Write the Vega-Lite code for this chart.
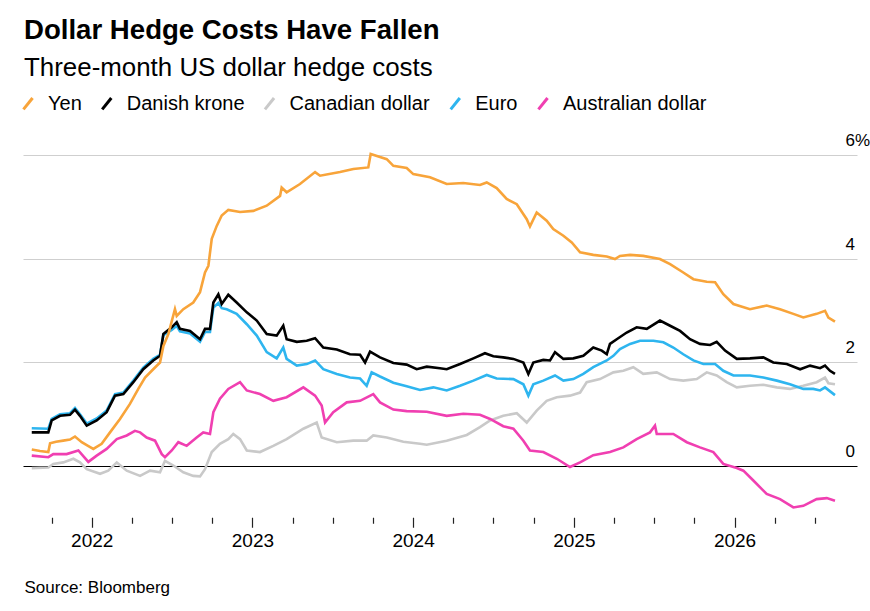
{
  "$schema": "https://vega.github.io/schema/vega-lite/v6.json",
  "width": 834,
  "height": 362.25,
  "autosize": {"type": "none"},
  "padding": {"left": 23, "top": 155, "right": 13, "bottom": 94},
  "background": "white",
  "title": {
    "text": "Dollar Hedge Costs Have Fallen",
    "subtitle": "Three-month US dollar hedge costs",
    "anchor": "start",
    "frame": "group",
    "dx": 1,
    "offset": 13,
    "font": "Liberation Sans",
    "fontSize": 27.6,
    "fontWeight": "bold",
    "color": "#000000",
    "subtitleFont": "Liberation Sans",
    "subtitleFontSize": 25.9,
    "subtitleColor": "#000000",
    "subtitlePadding": 11
  },
  "data": {
    "values": [
      {"currency": "Canadian dollar", "year": 2021.627, "cost": -0.05},
      {"currency": "Canadian dollar", "year": 2021.730, "cost": -0.04},
      {"currency": "Canadian dollar", "year": 2021.761, "cost": 0.03},
      {"currency": "Canadian dollar", "year": 2021.823, "cost": 0.06},
      {"currency": "Canadian dollar", "year": 2021.886, "cost": 0.13},
      {"currency": "Canadian dollar", "year": 2021.927, "cost": 0.06},
      {"currency": "Canadian dollar", "year": 2021.969, "cost": -0.07},
      {"currency": "Canadian dollar", "year": 2022.052, "cost": -0.16},
      {"currency": "Canadian dollar", "year": 2022.103, "cost": -0.10},
      {"currency": "Canadian dollar", "year": 2022.156, "cost": 0.06},
      {"currency": "Canadian dollar", "year": 2022.218, "cost": -0.10},
      {"currency": "Canadian dollar", "year": 2022.301, "cost": -0.20},
      {"currency": "Canadian dollar", "year": 2022.363, "cost": -0.10},
      {"currency": "Canadian dollar", "year": 2022.425, "cost": -0.13},
      {"currency": "Canadian dollar", "year": 2022.456, "cost": 0.09},
      {"currency": "Canadian dollar", "year": 2022.508, "cost": 0.00},
      {"currency": "Canadian dollar", "year": 2022.570, "cost": -0.13},
      {"currency": "Canadian dollar", "year": 2022.632, "cost": -0.20},
      {"currency": "Canadian dollar", "year": 2022.674, "cost": -0.21},
      {"currency": "Canadian dollar", "year": 2022.705, "cost": -0.07},
      {"currency": "Canadian dollar", "year": 2022.747, "cost": 0.26},
      {"currency": "Canadian dollar", "year": 2022.798, "cost": 0.42},
      {"currency": "Canadian dollar", "year": 2022.850, "cost": 0.51},
      {"currency": "Canadian dollar", "year": 2022.881, "cost": 0.61},
      {"currency": "Canadian dollar", "year": 2022.923, "cost": 0.51},
      {"currency": "Canadian dollar", "year": 2022.965, "cost": 0.29},
      {"currency": "Canadian dollar", "year": 2023.047, "cost": 0.26},
      {"currency": "Canadian dollar", "year": 2023.130, "cost": 0.38},
      {"currency": "Canadian dollar", "year": 2023.213, "cost": 0.51},
      {"currency": "Canadian dollar", "year": 2023.317, "cost": 0.71},
      {"currency": "Canadian dollar", "year": 2023.400, "cost": 0.83},
      {"currency": "Canadian dollar", "year": 2023.431, "cost": 0.54},
      {"currency": "Canadian dollar", "year": 2023.525, "cost": 0.45},
      {"currency": "Canadian dollar", "year": 2023.628, "cost": 0.48},
      {"currency": "Canadian dollar", "year": 2023.711, "cost": 0.48},
      {"currency": "Canadian dollar", "year": 2023.752, "cost": 0.58},
      {"currency": "Canadian dollar", "year": 2023.836, "cost": 0.54},
      {"currency": "Canadian dollar", "year": 2023.939, "cost": 0.46},
      {"currency": "Canadian dollar", "year": 2024.043, "cost": 0.42},
      {"currency": "Canadian dollar", "year": 2024.085, "cost": 0.40},
      {"currency": "Canadian dollar", "year": 2024.209, "cost": 0.48},
      {"currency": "Canadian dollar", "year": 2024.334, "cost": 0.59},
      {"currency": "Canadian dollar", "year": 2024.416, "cost": 0.74},
      {"currency": "Canadian dollar", "year": 2024.479, "cost": 0.87},
      {"currency": "Canadian dollar", "year": 2024.561, "cost": 0.96},
      {"currency": "Canadian dollar", "year": 2024.645, "cost": 1.01},
      {"currency": "Canadian dollar", "year": 2024.707, "cost": 0.83},
      {"currency": "Canadian dollar", "year": 2024.769, "cost": 1.06},
      {"currency": "Canadian dollar", "year": 2024.831, "cost": 1.25},
      {"currency": "Canadian dollar", "year": 2024.894, "cost": 1.32},
      {"currency": "Canadian dollar", "year": 2024.976, "cost": 1.35},
      {"currency": "Canadian dollar", "year": 2025.039, "cost": 1.41},
      {"currency": "Canadian dollar", "year": 2025.080, "cost": 1.61},
      {"currency": "Canadian dollar", "year": 2025.163, "cost": 1.67},
      {"currency": "Canadian dollar", "year": 2025.246, "cost": 1.80},
      {"currency": "Canadian dollar", "year": 2025.308, "cost": 1.83},
      {"currency": "Canadian dollar", "year": 2025.370, "cost": 1.90},
      {"currency": "Canadian dollar", "year": 2025.432, "cost": 1.77},
      {"currency": "Canadian dollar", "year": 2025.516, "cost": 1.80},
      {"currency": "Canadian dollar", "year": 2025.599, "cost": 1.67},
      {"currency": "Canadian dollar", "year": 2025.681, "cost": 1.64},
      {"currency": "Canadian dollar", "year": 2025.765, "cost": 1.67},
      {"currency": "Canadian dollar", "year": 2025.827, "cost": 1.80},
      {"currency": "Canadian dollar", "year": 2025.889, "cost": 1.74},
      {"currency": "Canadian dollar", "year": 2025.951, "cost": 1.61},
      {"currency": "Canadian dollar", "year": 2026.014, "cost": 1.51},
      {"currency": "Canadian dollar", "year": 2026.096, "cost": 1.54},
      {"currency": "Canadian dollar", "year": 2026.179, "cost": 1.56},
      {"currency": "Canadian dollar", "year": 2026.263, "cost": 1.51},
      {"currency": "Canadian dollar", "year": 2026.345, "cost": 1.48},
      {"currency": "Canadian dollar", "year": 2026.428, "cost": 1.54},
      {"currency": "Canadian dollar", "year": 2026.511, "cost": 1.61},
      {"currency": "Canadian dollar", "year": 2026.563, "cost": 1.70},
      {"currency": "Canadian dollar", "year": 2026.584, "cost": 1.59},
      {"currency": "Canadian dollar", "year": 2026.625, "cost": 1.57},

      {"currency": "Australian dollar", "year": 2021.627, "cost": 0.19},
      {"currency": "Australian dollar", "year": 2021.730, "cost": 0.16},
      {"currency": "Australian dollar", "year": 2021.761, "cost": 0.22},
      {"currency": "Australian dollar", "year": 2021.844, "cost": 0.22},
      {"currency": "Australian dollar", "year": 2021.917, "cost": 0.29},
      {"currency": "Australian dollar", "year": 2021.979, "cost": 0.07},
      {"currency": "Australian dollar", "year": 2022.031, "cost": 0.19},
      {"currency": "Australian dollar", "year": 2022.093, "cost": 0.32},
      {"currency": "Australian dollar", "year": 2022.156, "cost": 0.51},
      {"currency": "Australian dollar", "year": 2022.218, "cost": 0.58},
      {"currency": "Australian dollar", "year": 2022.269, "cost": 0.67},
      {"currency": "Australian dollar", "year": 2022.301, "cost": 0.64},
      {"currency": "Australian dollar", "year": 2022.342, "cost": 0.54},
      {"currency": "Australian dollar", "year": 2022.394, "cost": 0.48},
      {"currency": "Australian dollar", "year": 2022.436, "cost": 0.22},
      {"currency": "Australian dollar", "year": 2022.456, "cost": 0.16},
      {"currency": "Australian dollar", "year": 2022.498, "cost": 0.29},
      {"currency": "Australian dollar", "year": 2022.539, "cost": 0.45},
      {"currency": "Australian dollar", "year": 2022.591, "cost": 0.38},
      {"currency": "Australian dollar", "year": 2022.653, "cost": 0.54},
      {"currency": "Australian dollar", "year": 2022.694, "cost": 0.64},
      {"currency": "Australian dollar", "year": 2022.736, "cost": 0.61},
      {"currency": "Australian dollar", "year": 2022.757, "cost": 1.03},
      {"currency": "Australian dollar", "year": 2022.798, "cost": 1.29},
      {"currency": "Australian dollar", "year": 2022.850, "cost": 1.48},
      {"currency": "Australian dollar", "year": 2022.923, "cost": 1.61},
      {"currency": "Australian dollar", "year": 2022.965, "cost": 1.45},
      {"currency": "Australian dollar", "year": 2023.047, "cost": 1.38},
      {"currency": "Australian dollar", "year": 2023.130, "cost": 1.25},
      {"currency": "Australian dollar", "year": 2023.213, "cost": 1.32},
      {"currency": "Australian dollar", "year": 2023.317, "cost": 1.51},
      {"currency": "Australian dollar", "year": 2023.390, "cost": 1.35},
      {"currency": "Australian dollar", "year": 2023.431, "cost": 1.16},
      {"currency": "Australian dollar", "year": 2023.452, "cost": 0.83},
      {"currency": "Australian dollar", "year": 2023.503, "cost": 1.03},
      {"currency": "Australian dollar", "year": 2023.587, "cost": 1.22},
      {"currency": "Australian dollar", "year": 2023.670, "cost": 1.25},
      {"currency": "Australian dollar", "year": 2023.752, "cost": 1.38},
      {"currency": "Australian dollar", "year": 2023.794, "cost": 1.22},
      {"currency": "Australian dollar", "year": 2023.877, "cost": 1.08},
      {"currency": "Australian dollar", "year": 2023.960, "cost": 1.05},
      {"currency": "Australian dollar", "year": 2024.085, "cost": 1.04},
      {"currency": "Australian dollar", "year": 2024.209, "cost": 0.96},
      {"currency": "Australian dollar", "year": 2024.312, "cost": 1.00},
      {"currency": "Australian dollar", "year": 2024.416, "cost": 0.98},
      {"currency": "Australian dollar", "year": 2024.479, "cost": 0.90},
      {"currency": "Australian dollar", "year": 2024.561, "cost": 0.76},
      {"currency": "Australian dollar", "year": 2024.624, "cost": 0.71},
      {"currency": "Australian dollar", "year": 2024.686, "cost": 0.48},
      {"currency": "Australian dollar", "year": 2024.727, "cost": 0.29},
      {"currency": "Australian dollar", "year": 2024.810, "cost": 0.26},
      {"currency": "Australian dollar", "year": 2024.894, "cost": 0.13},
      {"currency": "Australian dollar", "year": 2024.976, "cost": -0.03},
      {"currency": "Australian dollar", "year": 2025.039, "cost": 0.06},
      {"currency": "Australian dollar", "year": 2025.121, "cost": 0.20},
      {"currency": "Australian dollar", "year": 2025.225, "cost": 0.26},
      {"currency": "Australian dollar", "year": 2025.308, "cost": 0.35},
      {"currency": "Australian dollar", "year": 2025.391, "cost": 0.51},
      {"currency": "Australian dollar", "year": 2025.474, "cost": 0.64},
      {"currency": "Australian dollar", "year": 2025.505, "cost": 0.77},
      {"currency": "Australian dollar", "year": 2025.516, "cost": 0.61},
      {"currency": "Australian dollar", "year": 2025.619, "cost": 0.61},
      {"currency": "Australian dollar", "year": 2025.703, "cost": 0.45},
      {"currency": "Australian dollar", "year": 2025.785, "cost": 0.35},
      {"currency": "Australian dollar", "year": 2025.868, "cost": 0.26},
      {"currency": "Australian dollar", "year": 2025.930, "cost": 0.03},
      {"currency": "Australian dollar", "year": 2026.014, "cost": -0.05},
      {"currency": "Australian dollar", "year": 2026.055, "cost": -0.10},
      {"currency": "Australian dollar", "year": 2026.117, "cost": -0.29},
      {"currency": "Australian dollar", "year": 2026.200, "cost": -0.55},
      {"currency": "Australian dollar", "year": 2026.283, "cost": -0.65},
      {"currency": "Australian dollar", "year": 2026.366, "cost": -0.81},
      {"currency": "Australian dollar", "year": 2026.428, "cost": -0.78},
      {"currency": "Australian dollar", "year": 2026.511, "cost": -0.65},
      {"currency": "Australian dollar", "year": 2026.574, "cost": -0.63},
      {"currency": "Australian dollar", "year": 2026.625, "cost": -0.68},

      {"currency": "Euro", "year": 2021.627, "cost": 0.72},
      {"currency": "Euro", "year": 2021.730, "cost": 0.71},
      {"currency": "Euro", "year": 2021.751, "cost": 0.90},
      {"currency": "Euro", "year": 2021.803, "cost": 0.99},
      {"currency": "Euro", "year": 2021.865, "cost": 1.01},
      {"currency": "Euro", "year": 2021.896, "cost": 1.11},
      {"currency": "Euro", "year": 2021.927, "cost": 0.99},
      {"currency": "Euro", "year": 2021.969, "cost": 0.81},
      {"currency": "Euro", "year": 2022.031, "cost": 0.91},
      {"currency": "Euro", "year": 2022.093, "cost": 1.06},
      {"currency": "Euro", "year": 2022.145, "cost": 1.38},
      {"currency": "Euro", "year": 2022.197, "cost": 1.41},
      {"currency": "Euro", "year": 2022.259, "cost": 1.64},
      {"currency": "Euro", "year": 2022.321, "cost": 1.89},
      {"currency": "Euro", "year": 2022.383, "cost": 2.06},
      {"currency": "Euro", "year": 2022.425, "cost": 2.14},
      {"currency": "Euro", "year": 2022.446, "cost": 2.52},
      {"currency": "Euro", "year": 2022.498, "cost": 2.62},
      {"currency": "Euro", "year": 2022.529, "cost": 2.70},
      {"currency": "Euro", "year": 2022.549, "cost": 2.59},
      {"currency": "Euro", "year": 2022.612, "cost": 2.55},
      {"currency": "Euro", "year": 2022.674, "cost": 2.39},
      {"currency": "Euro", "year": 2022.705, "cost": 2.58},
      {"currency": "Euro", "year": 2022.736, "cost": 2.58},
      {"currency": "Euro", "year": 2022.757, "cost": 3.05},
      {"currency": "Euro", "year": 2022.788, "cost": 3.14},
      {"currency": "Euro", "year": 2022.809, "cost": 3.04},
      {"currency": "Euro", "year": 2022.840, "cost": 3.02},
      {"currency": "Euro", "year": 2022.902, "cost": 2.93},
      {"currency": "Euro", "year": 2022.965, "cost": 2.73},
      {"currency": "Euro", "year": 2023.027, "cost": 2.51},
      {"currency": "Euro", "year": 2023.089, "cost": 2.19},
      {"currency": "Euro", "year": 2023.151, "cost": 2.07},
      {"currency": "Euro", "year": 2023.192, "cost": 2.28},
      {"currency": "Euro", "year": 2023.213, "cost": 2.06},
      {"currency": "Euro", "year": 2023.276, "cost": 1.93},
      {"currency": "Euro", "year": 2023.338, "cost": 1.96},
      {"currency": "Euro", "year": 2023.390, "cost": 2.03},
      {"currency": "Euro", "year": 2023.441, "cost": 1.86},
      {"currency": "Euro", "year": 2023.525, "cost": 1.77},
      {"currency": "Euro", "year": 2023.607, "cost": 1.70},
      {"currency": "Euro", "year": 2023.670, "cost": 1.68},
      {"currency": "Euro", "year": 2023.711, "cost": 1.54},
      {"currency": "Euro", "year": 2023.742, "cost": 1.80},
      {"currency": "Euro", "year": 2023.794, "cost": 1.72},
      {"currency": "Euro", "year": 2023.877, "cost": 1.60},
      {"currency": "Euro", "year": 2023.960, "cost": 1.53},
      {"currency": "Euro", "year": 2024.043, "cost": 1.46},
      {"currency": "Euro", "year": 2024.126, "cost": 1.51},
      {"currency": "Euro", "year": 2024.209, "cost": 1.45},
      {"currency": "Euro", "year": 2024.292, "cost": 1.54},
      {"currency": "Euro", "year": 2024.375, "cost": 1.64},
      {"currency": "Euro", "year": 2024.458, "cost": 1.75},
      {"currency": "Euro", "year": 2024.520, "cost": 1.68},
      {"currency": "Euro", "year": 2024.624, "cost": 1.67},
      {"currency": "Euro", "year": 2024.686, "cost": 1.57},
      {"currency": "Euro", "year": 2024.717, "cost": 1.35},
      {"currency": "Euro", "year": 2024.748, "cost": 1.57},
      {"currency": "Euro", "year": 2024.810, "cost": 1.64},
      {"currency": "Euro", "year": 2024.883, "cost": 1.74},
      {"currency": "Euro", "year": 2024.935, "cost": 1.64},
      {"currency": "Euro", "year": 2024.997, "cost": 1.67},
      {"currency": "Euro", "year": 2025.059, "cost": 1.77},
      {"currency": "Euro", "year": 2025.121, "cost": 1.90},
      {"currency": "Euro", "year": 2025.205, "cost": 2.03},
      {"currency": "Euro", "year": 2025.246, "cost": 2.12},
      {"currency": "Euro", "year": 2025.287, "cost": 2.25},
      {"currency": "Euro", "year": 2025.350, "cost": 2.35},
      {"currency": "Euro", "year": 2025.412, "cost": 2.41},
      {"currency": "Euro", "year": 2025.495, "cost": 2.41},
      {"currency": "Euro", "year": 2025.557, "cost": 2.38},
      {"currency": "Euro", "year": 2025.619, "cost": 2.28},
      {"currency": "Euro", "year": 2025.681, "cost": 2.15},
      {"currency": "Euro", "year": 2025.744, "cost": 2.03},
      {"currency": "Euro", "year": 2025.806, "cost": 1.96},
      {"currency": "Euro", "year": 2025.879, "cost": 1.96},
      {"currency": "Euro", "year": 2025.930, "cost": 1.83},
      {"currency": "Euro", "year": 2025.993, "cost": 1.74},
      {"currency": "Euro", "year": 2026.096, "cost": 1.74},
      {"currency": "Euro", "year": 2026.179, "cost": 1.70},
      {"currency": "Euro", "year": 2026.263, "cost": 1.64},
      {"currency": "Euro", "year": 2026.345, "cost": 1.57},
      {"currency": "Euro", "year": 2026.428, "cost": 1.48},
      {"currency": "Euro", "year": 2026.490, "cost": 1.48},
      {"currency": "Euro", "year": 2026.532, "cost": 1.45},
      {"currency": "Euro", "year": 2026.563, "cost": 1.51},
      {"currency": "Euro", "year": 2026.625, "cost": 1.36},

      {"currency": "Danish krone", "year": 2021.627, "cost": 0.64},
      {"currency": "Danish krone", "year": 2021.730, "cost": 0.64},
      {"currency": "Danish krone", "year": 2021.751, "cost": 0.87},
      {"currency": "Danish krone", "year": 2021.803, "cost": 0.96},
      {"currency": "Danish krone", "year": 2021.865, "cost": 0.98},
      {"currency": "Danish krone", "year": 2021.896, "cost": 1.08},
      {"currency": "Danish krone", "year": 2021.927, "cost": 0.96},
      {"currency": "Danish krone", "year": 2021.969, "cost": 0.77},
      {"currency": "Danish krone", "year": 2022.031, "cost": 0.87},
      {"currency": "Danish krone", "year": 2022.093, "cost": 1.03},
      {"currency": "Danish krone", "year": 2022.145, "cost": 1.35},
      {"currency": "Danish krone", "year": 2022.197, "cost": 1.38},
      {"currency": "Danish krone", "year": 2022.259, "cost": 1.61},
      {"currency": "Danish krone", "year": 2022.321, "cost": 1.86},
      {"currency": "Danish krone", "year": 2022.383, "cost": 2.03},
      {"currency": "Danish krone", "year": 2022.425, "cost": 2.12},
      {"currency": "Danish krone", "year": 2022.446, "cost": 2.54},
      {"currency": "Danish krone", "year": 2022.498, "cost": 2.67},
      {"currency": "Danish krone", "year": 2022.529, "cost": 2.77},
      {"currency": "Danish krone", "year": 2022.549, "cost": 2.64},
      {"currency": "Danish krone", "year": 2022.612, "cost": 2.60},
      {"currency": "Danish krone", "year": 2022.674, "cost": 2.44},
      {"currency": "Danish krone", "year": 2022.705, "cost": 2.64},
      {"currency": "Danish krone", "year": 2022.736, "cost": 2.64},
      {"currency": "Danish krone", "year": 2022.757, "cost": 3.15},
      {"currency": "Danish krone", "year": 2022.788, "cost": 3.31},
      {"currency": "Danish krone", "year": 2022.809, "cost": 3.12},
      {"currency": "Danish krone", "year": 2022.850, "cost": 3.30},
      {"currency": "Danish krone", "year": 2022.902, "cost": 3.15},
      {"currency": "Danish krone", "year": 2022.965, "cost": 2.96},
      {"currency": "Danish krone", "year": 2023.027, "cost": 2.80},
      {"currency": "Danish krone", "year": 2023.089, "cost": 2.54},
      {"currency": "Danish krone", "year": 2023.151, "cost": 2.51},
      {"currency": "Danish krone", "year": 2023.192, "cost": 2.70},
      {"currency": "Danish krone", "year": 2023.213, "cost": 2.44},
      {"currency": "Danish krone", "year": 2023.276, "cost": 2.39},
      {"currency": "Danish krone", "year": 2023.338, "cost": 2.41},
      {"currency": "Danish krone", "year": 2023.390, "cost": 2.46},
      {"currency": "Danish krone", "year": 2023.441, "cost": 2.28},
      {"currency": "Danish krone", "year": 2023.525, "cost": 2.24},
      {"currency": "Danish krone", "year": 2023.607, "cost": 2.15},
      {"currency": "Danish krone", "year": 2023.670, "cost": 2.14},
      {"currency": "Danish krone", "year": 2023.701, "cost": 1.99},
      {"currency": "Danish krone", "year": 2023.732, "cost": 2.20},
      {"currency": "Danish krone", "year": 2023.794, "cost": 2.09},
      {"currency": "Danish krone", "year": 2023.877, "cost": 1.98},
      {"currency": "Danish krone", "year": 2023.960, "cost": 1.95},
      {"currency": "Danish krone", "year": 2024.022, "cost": 1.86},
      {"currency": "Danish krone", "year": 2024.085, "cost": 1.91},
      {"currency": "Danish krone", "year": 2024.167, "cost": 1.88},
      {"currency": "Danish krone", "year": 2024.209, "cost": 1.86},
      {"currency": "Danish krone", "year": 2024.292, "cost": 1.96},
      {"currency": "Danish krone", "year": 2024.375, "cost": 2.07},
      {"currency": "Danish krone", "year": 2024.447, "cost": 2.17},
      {"currency": "Danish krone", "year": 2024.499, "cost": 2.11},
      {"currency": "Danish krone", "year": 2024.561, "cost": 2.09},
      {"currency": "Danish krone", "year": 2024.624, "cost": 2.06},
      {"currency": "Danish krone", "year": 2024.686, "cost": 1.99},
      {"currency": "Danish krone", "year": 2024.717, "cost": 1.77},
      {"currency": "Danish krone", "year": 2024.748, "cost": 1.99},
      {"currency": "Danish krone", "year": 2024.810, "cost": 2.04},
      {"currency": "Danish krone", "year": 2024.852, "cost": 2.03},
      {"currency": "Danish krone", "year": 2024.883, "cost": 2.19},
      {"currency": "Danish krone", "year": 2024.935, "cost": 2.06},
      {"currency": "Danish krone", "year": 2024.997, "cost": 2.07},
      {"currency": "Danish krone", "year": 2025.059, "cost": 2.12},
      {"currency": "Danish krone", "year": 2025.121, "cost": 2.28},
      {"currency": "Danish krone", "year": 2025.174, "cost": 2.22},
      {"currency": "Danish krone", "year": 2025.205, "cost": 2.15},
      {"currency": "Danish krone", "year": 2025.225, "cost": 2.35},
      {"currency": "Danish krone", "year": 2025.267, "cost": 2.44},
      {"currency": "Danish krone", "year": 2025.329, "cost": 2.57},
      {"currency": "Danish krone", "year": 2025.391, "cost": 2.67},
      {"currency": "Danish krone", "year": 2025.454, "cost": 2.64},
      {"currency": "Danish krone", "year": 2025.536, "cost": 2.80},
      {"currency": "Danish krone", "year": 2025.599, "cost": 2.70},
      {"currency": "Danish krone", "year": 2025.661, "cost": 2.60},
      {"currency": "Danish krone", "year": 2025.723, "cost": 2.44},
      {"currency": "Danish krone", "year": 2025.785, "cost": 2.35},
      {"currency": "Danish krone", "year": 2025.848, "cost": 2.33},
      {"currency": "Danish krone", "year": 2025.889, "cost": 2.39},
      {"currency": "Danish krone", "year": 2025.941, "cost": 2.22},
      {"currency": "Danish krone", "year": 2026.014, "cost": 2.06},
      {"currency": "Danish krone", "year": 2026.096, "cost": 2.07},
      {"currency": "Danish krone", "year": 2026.179, "cost": 2.09},
      {"currency": "Danish krone", "year": 2026.241, "cost": 1.99},
      {"currency": "Danish krone", "year": 2026.325, "cost": 1.96},
      {"currency": "Danish krone", "year": 2026.408, "cost": 1.86},
      {"currency": "Danish krone", "year": 2026.470, "cost": 1.93},
      {"currency": "Danish krone", "year": 2026.532, "cost": 1.88},
      {"currency": "Danish krone", "year": 2026.563, "cost": 1.93},
      {"currency": "Danish krone", "year": 2026.594, "cost": 1.83},
      {"currency": "Danish krone", "year": 2026.625, "cost": 1.77},

      {"currency": "Yen", "year": 2021.627, "cost": 0.31},
      {"currency": "Yen", "year": 2021.678, "cost": 0.28},
      {"currency": "Yen", "year": 2021.730, "cost": 0.26},
      {"currency": "Yen", "year": 2021.741, "cost": 0.43},
      {"currency": "Yen", "year": 2021.778, "cost": 0.46},
      {"currency": "Yen", "year": 2021.823, "cost": 0.48},
      {"currency": "Yen", "year": 2021.865, "cost": 0.50},
      {"currency": "Yen", "year": 2021.896, "cost": 0.56},
      {"currency": "Yen", "year": 2021.938, "cost": 0.45},
      {"currency": "Yen", "year": 2021.977, "cost": 0.38},
      {"currency": "Yen", "year": 2022.010, "cost": 0.32},
      {"currency": "Yen", "year": 2022.062, "cost": 0.42},
      {"currency": "Yen", "year": 2022.114, "cost": 0.64},
      {"currency": "Yen", "year": 2022.176, "cost": 0.90},
      {"currency": "Yen", "year": 2022.238, "cost": 1.19},
      {"currency": "Yen", "year": 2022.290, "cost": 1.48},
      {"currency": "Yen", "year": 2022.332, "cost": 1.70},
      {"currency": "Yen", "year": 2022.383, "cost": 1.86},
      {"currency": "Yen", "year": 2022.425, "cost": 1.99},
      {"currency": "Yen", "year": 2022.446, "cost": 2.31},
      {"currency": "Yen", "year": 2022.477, "cost": 2.54},
      {"currency": "Yen", "year": 2022.518, "cost": 3.02},
      {"currency": "Yen", "year": 2022.529, "cost": 2.89},
      {"currency": "Yen", "year": 2022.570, "cost": 3.02},
      {"currency": "Yen", "year": 2022.632, "cost": 3.15},
      {"currency": "Yen", "year": 2022.674, "cost": 3.35},
      {"currency": "Yen", "year": 2022.705, "cost": 3.73},
      {"currency": "Yen", "year": 2022.726, "cost": 3.86},
      {"currency": "Yen", "year": 2022.747, "cost": 4.38},
      {"currency": "Yen", "year": 2022.778, "cost": 4.63},
      {"currency": "Yen", "year": 2022.809, "cost": 4.83},
      {"currency": "Yen", "year": 2022.850, "cost": 4.94},
      {"currency": "Yen", "year": 2022.923, "cost": 4.90},
      {"currency": "Yen", "year": 2023.006, "cost": 4.92},
      {"currency": "Yen", "year": 2023.089, "cost": 5.02},
      {"currency": "Yen", "year": 2023.172, "cost": 5.21},
      {"currency": "Yen", "year": 2023.182, "cost": 5.37},
      {"currency": "Yen", "year": 2023.213, "cost": 5.28},
      {"currency": "Yen", "year": 2023.296, "cost": 5.44},
      {"currency": "Yen", "year": 2023.390, "cost": 5.67},
      {"currency": "Yen", "year": 2023.421, "cost": 5.60},
      {"currency": "Yen", "year": 2023.545, "cost": 5.67},
      {"currency": "Yen", "year": 2023.628, "cost": 5.73},
      {"currency": "Yen", "year": 2023.721, "cost": 5.76},
      {"currency": "Yen", "year": 2023.736, "cost": 6.02},
      {"currency": "Yen", "year": 2023.794, "cost": 5.96},
      {"currency": "Yen", "year": 2023.836, "cost": 5.92},
      {"currency": "Yen", "year": 2023.877, "cost": 5.79},
      {"currency": "Yen", "year": 2023.960, "cost": 5.75},
      {"currency": "Yen", "year": 2024.001, "cost": 5.63},
      {"currency": "Yen", "year": 2024.105, "cost": 5.57},
      {"currency": "Yen", "year": 2024.209, "cost": 5.44},
      {"currency": "Yen", "year": 2024.312, "cost": 5.46},
      {"currency": "Yen", "year": 2024.416, "cost": 5.42},
      {"currency": "Yen", "year": 2024.458, "cost": 5.47},
      {"currency": "Yen", "year": 2024.520, "cost": 5.36},
      {"currency": "Yen", "year": 2024.582, "cost": 5.15},
      {"currency": "Yen", "year": 2024.645, "cost": 5.05},
      {"currency": "Yen", "year": 2024.707, "cost": 4.76},
      {"currency": "Yen", "year": 2024.727, "cost": 4.62},
      {"currency": "Yen", "year": 2024.769, "cost": 4.89},
      {"currency": "Yen", "year": 2024.831, "cost": 4.73},
      {"currency": "Yen", "year": 2024.872, "cost": 4.57},
      {"currency": "Yen", "year": 2024.935, "cost": 4.44},
      {"currency": "Yen", "year": 2024.987, "cost": 4.31},
      {"currency": "Yen", "year": 2025.039, "cost": 4.12},
      {"currency": "Yen", "year": 2025.121, "cost": 4.07},
      {"currency": "Yen", "year": 2025.205, "cost": 4.04},
      {"currency": "Yen", "year": 2025.256, "cost": 3.99},
      {"currency": "Yen", "year": 2025.287, "cost": 4.05},
      {"currency": "Yen", "year": 2025.350, "cost": 4.07},
      {"currency": "Yen", "year": 2025.432, "cost": 4.05},
      {"currency": "Yen", "year": 2025.536, "cost": 3.99},
      {"currency": "Yen", "year": 2025.599, "cost": 3.89},
      {"currency": "Yen", "year": 2025.681, "cost": 3.73},
      {"currency": "Yen", "year": 2025.744, "cost": 3.60},
      {"currency": "Yen", "year": 2025.827, "cost": 3.55},
      {"currency": "Yen", "year": 2025.879, "cost": 3.54},
      {"currency": "Yen", "year": 2025.930, "cost": 3.31},
      {"currency": "Yen", "year": 2025.993, "cost": 3.12},
      {"currency": "Yen", "year": 2026.096, "cost": 3.02},
      {"currency": "Yen", "year": 2026.200, "cost": 3.09},
      {"currency": "Yen", "year": 2026.283, "cost": 3.02},
      {"currency": "Yen", "year": 2026.366, "cost": 2.93},
      {"currency": "Yen", "year": 2026.428, "cost": 2.86},
      {"currency": "Yen", "year": 2026.511, "cost": 2.93},
      {"currency": "Yen", "year": 2026.563, "cost": 2.99},
      {"currency": "Yen", "year": 2026.584, "cost": 2.86},
      {"currency": "Yen", "year": 2026.625, "cost": 2.78}
    ]
  },
  "mark": {"type": "line", "strokeWidth": 2.6, "clip": false},
  "encoding": {
    "x": {
      "field": "year",
      "type": "quantitative",
      "scale": {"domain": [2021.5725, 2026.762], "nice": false, "zero": false},
      "axis": {
        "title": "Source: Bloomberg",
        "titleFont": "Liberation Sans",
        "titleFontSize": 17,
        "titleFontWeight": "normal",
        "titleColor": "#000000",
        "titleAnchor": "start",
        "titleAlign": "left",
        "titleBaseline": "alphabetic",
        "titleX": 1,
        "titleY": 75,
        "values": [2021.75, 2022, 2022.25, 2022.5, 2022.75, 2023, 2023.25, 2023.5, 2023.75, 2024, 2024.25, 2024.5, 2024.75, 2025, 2025.25, 2025.5, 2025.75, 2026, 2026.25, 2026.5],
        "labelExpr": "datum.value % 1 === 0 ? format(datum.value, 'd') : ''",
        "labelOverlap": false,
        "labelFlush": false,
        "labelFont": "Liberation Sans",
        "labelFontSize": 19,
        "labelColor": "#000000",
        "labelPadding": 4,
        "grid": false,
        "domain": false,
        "tickColor": "#222222",
        "tickWidth": 1.2,
        "tickSize": {"condition": {"test": "datum.value % 1 === 0", "value": 10}, "value": 6}
      }
    },
    "y": {
      "field": "cost",
      "type": "quantitative",
      "scale": {"domain": [-1, 6], "nice": false, "zero": false},
      "axis": {
        "orient": "right",
        "title": null,
        "values": [0, 2, 4, 6],
        "domain": false,
        "ticks": false,
        "labelAlign": "left",
        "labelBaseline": "alphabetic",
        "labelPadding": -12,
        "labelOffset": -9.5,
        "labelFont": "Liberation Sans",
        "labelFontSize": 17,
        "labelColor": "#000000",
        "labelExpr": "datum.value === 6 ? '6%' : datum.label",
        "grid": true,
        "gridWidth": 1,
        "gridColor": {"condition": {"test": "datum.value === 0", "value": "#000000"}, "value": "#cfcfcf"}
      }
    },
    "color": {
      "field": "currency",
      "type": "nominal",
      "scale": {
        "domain": ["Yen", "Danish krone", "Canadian dollar", "Euro", "Australian dollar"],
        "range": ["#f8a43a", "#000000", "#c9c9c9", "#2eb5ef", "#f03fb1"]
      },
      "legend": {
        "title": null,
        "orient": "none",
        "legendX": -5,
        "legendY": -61.5,
        "direction": "horizontal",
        "padding": 0,
        "symbolType": "M-0.8,1L0.8,-1",
        "symbolSize": 130,
        "symbolStrokeWidth": 3,
        "labelFont": "Liberation Sans",
        "labelFontSize": 20,
        "labelColor": "#000000",
        "labelOffset": 10,
        "columnPadding": 13.75
      }
    }
  },
  "config": {
    "view": {"stroke": null},
    "font": "Liberation Sans"
  }
}
